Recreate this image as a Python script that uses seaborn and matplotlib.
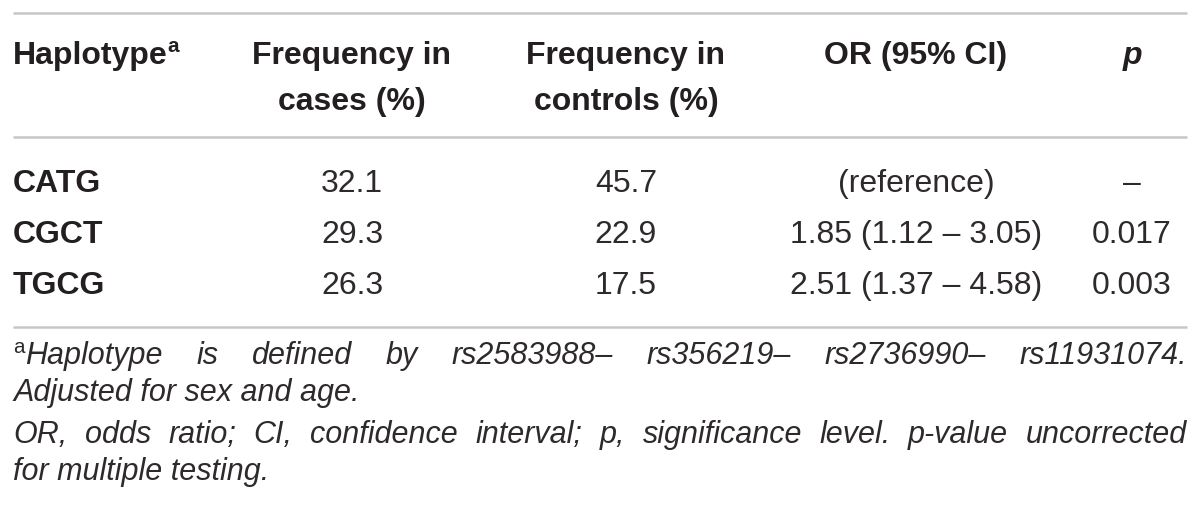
import matplotlib
matplotlib.use("Agg")
import matplotlib.pyplot as plt
import seaborn as sns

# ---- data ----
col_headers = [["Haplotype"], ["Frequency in", "cases (%)"], ["Frequency in", "controls (%)"], ["OR (95% CI)"], ["p"]]
haplotypes = ["CATG", "CGCT", "TGCG"]
freq_cases = ["32.1", "29.3", "26.3"]
freq_controls = ["45.7", "22.9", "17.5"]
or_ci = ["(reference)", "1.85 (1.12 \u2013 3.05)", "2.51 (1.37 \u2013 4.58)"]
p_values = ["\u2013", "0.017", "0.003"]
footnote_1 = "Haplotype is defined by rs2583988\u2013 rs356219\u2013 rs2736990\u2013 rs11931074."
footnote_2 = "Adjusted for sex and age."
footnote_3 = "OR, odds ratio; CI, confidence interval; p, significance level. p-value uncorrected"
footnote_4 = "for multiple testing."

sns.set_theme(style="white")
plt.rcParams["font.family"] = ["Liberation Sans", "DejaVu Sans"]

W, H = 1200, 519
fig = plt.figure(figsize=(W / 100, H / 100), dpi=100)
ax = fig.add_axes([0, 0, 1, 1])
ax.set_xlim(0, W)
ax.set_ylim(H, 0)
ax.axis("off")

TXT = "#231f20"
TXT_LIGHT = "#2e2a2b"
LINE = "#c6c6c6"
FS_HEAD = 23
FS = 23
FS_NOTE = 22
LEFT, RIGHT = 13, 1187

ax.hlines([13, 137, 327], LEFT, RIGHT, colors=LINE, linewidth=1.8)

renderer = fig.canvas.get_renderer()

def width_of(t):
    return t.get_window_extent(renderer=renderer).width

# header
col_x = [LEFT, 352, 626, 916, 1132]
col_ha = ["left", "center", "center", "center", "center"]
head_y = [64, 110]
for j, lines in enumerate(col_headers):
    for k, s in enumerate(lines):
        st = "italic" if s == "p" else "normal"
        t = ax.text(col_x[j], head_y[k], s, ha=col_ha[j], va="baseline",
                    fontsize=FS_HEAD, fontweight="bold", style=st, color=TXT)
        if j == 0:
            w = width_of(t)
            ax.text(col_x[j] + w, head_y[k] - 12, "a", ha="left", va="baseline",
                    fontsize=FS_HEAD * 0.65, fontweight="bold", color=TXT)

# body
row_y = [192, 243, 294]
for i in range(len(haplotypes)):
    ax.text(col_x[0], row_y[i], haplotypes[i], ha="left", va="baseline",
            fontsize=FS_HEAD, fontweight="bold", color=TXT)
    for j, col in enumerate([freq_cases, freq_controls, or_ci, p_values], start=1):
        ax.text(col_x[j], row_y[i], col[i], ha="center", va="baseline",
                fontsize=FS, color=TXT_LIGHT)

# footnotes
def justified(text, y, prefix=None):
    words = text.split(" ")
    arts = []
    x0 = LEFT
    if prefix is not None:
        pt = ax.text(x0, y - 11, prefix, ha="left", va="baseline", fontsize=FS_NOTE * 0.68, color=TXT_LIGHT)
        x0 += width_of(pt) + 1
    total = 0
    for w in words:
        t = ax.text(0, y, w, ha="left", va="baseline", fontsize=FS_NOTE, style="italic", color=TXT_LIGHT)
        arts.append(t)
        total += width_of(t)
    gap = (RIGHT - x0 - total) / (len(words) - 1)
    x = x0
    for t in arts:
        t.set_x(x)
        x += width_of(t) + gap

def plain(text, y):
    ax.text(LEFT, y, text, ha="left", va="baseline", fontsize=FS_NOTE, style="italic", color=TXT_LIGHT)

justified(footnote_1, 364, prefix="a")
plain(footnote_2, 401)
justified(footnote_3, 443)
plain(footnote_4, 480)

fig.savefig("out.png", dpi=100, facecolor="white")
